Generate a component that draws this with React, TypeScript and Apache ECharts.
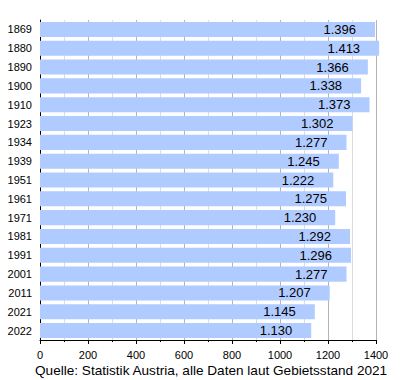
import React, { useEffect, useRef } from "react";
import * as echarts from "echarts";

const years = ["1869", "1880", "1890", "1900", "1910", "1923", "1934", "1939", "1951", "1961", "1971", "1981", "1991", "2001", "2011", "2021", "2022"];
const population = [1396, 1413, 1366, 1338, 1373, 1302, 1277, 1245, 1222, 1275, 1230, 1292, 1296, 1277, 1207, 1145, 1130];
const sourceNote = "Quelle: Statistik Austria, alle Daten laut Gebietsstand 2021";

const FONT = "Liberation Sans, Arial, sans-serif";

function fmt(v: number): string {
  const s = String(Math.round(v));
  return s.length > 3 ? s.slice(0, s.length - 3) + "." + s.slice(-3) : s;
}

export default function App() {
  const ref = useRef<HTMLDivElement>(null);
  useEffect(() => {
    if (!ref.current) return;
    const chart = echarts.init(ref.current, undefined, { renderer: "svg" });
    chart.setOption({
      animation: false,
      backgroundColor: "#ffffff",
      textStyle: { fontFamily: FONT },
      grid: { left: 40, right: 24, top: 20, bottom: 40, containLabel: false },
      xAxis: {
        type: "value",
        min: 0,
        max: 1400,
        interval: 200,
        axisLine: { show: true, onZero: false, lineStyle: { color: "#000", width: 1 } },
        axisTick: { show: true, length: 4, lineStyle: { color: "#000" } },
        minorTick: { show: true, splitNumber: 2, length: 2, lineStyle: { color: "#000" } },
        axisLabel: {
          color: "#000",
          fontSize: 11,
          fontFamily: FONT,
          margin: 9,
          formatter: (v: number) => String(v),
        },
        splitLine: { show: true, lineStyle: { color: "#b4b4b4", width: 1 } },
        minorSplitLine: { show: true, lineStyle: { color: "#dcdcdc", width: 1 } },
      },
      yAxis: {
        type: "category",
        data: years,
        inverse: true,
        axisLine: { show: true, lineStyle: { color: "#000", width: 1 } },
        axisTick: { show: false },
        axisLabel: { color: "#000", fontSize: 11, fontFamily: FONT, margin: 8 },
        splitLine: { show: false },
      },
      series: [
        {
          type: "bar",
          data: population,
          clip: false,
          barCategoryGap: "20%",
          itemStyle: { color: "#b0cbff" },
          label: {
            show: true,
            position: "insideRight",
            offset: [-14, 0],
            color: "#000",
            fontSize: 13,
            fontFamily: FONT,
            formatter: (p: any) => fmt(p.value),
          },
        },
      ],
      graphic: [
        {
          type: "text",
          x: 35,
          y: 370,
          style: {
            text: sourceNote,
            fill: "#000",
            fontSize: 13.6,
            fontFamily: FONT,
            textAlign: "left",
            textVerticalAlign: "middle",
          },
        },
      ],
    });
    return () => chart.dispose();
  }, []);
  return <div ref={ref} style={{ position: "fixed", left: 0, top: 0, width: 400, height: 380 }} />;
}
